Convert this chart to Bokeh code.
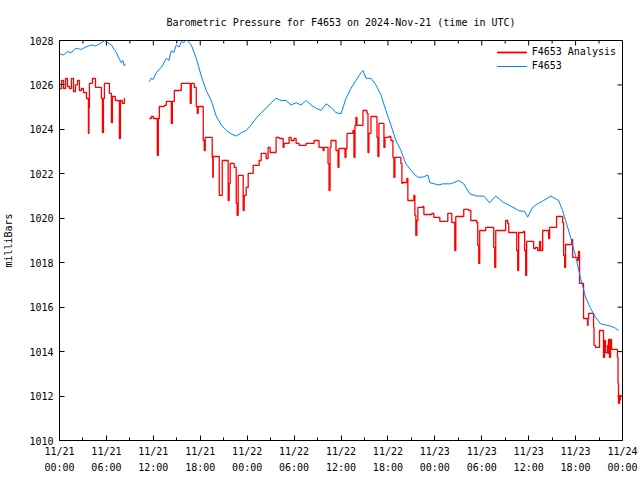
import math
import numpy as np
from bokeh.plotting import figure
from bokeh.models import Range1d, FixedTicker, LinearAxis
from bokeh.embed import file_html
from bokeh.resources import INLINE

FONT = "DejaVu Sans Mono"
title_text = "Barometric Pressure for F4653 on 2024-Nov-21 (time in UTC)"
ylabel = "milliBars"
obs_name = "F4653"
ana_name = "F4653 Analysis"
NaN = float("nan")

# Observed pressure (hours since 2024-11-21 00:00 UTC, mb)
obs_hours = [0.00, 0.5, 1.02, 1.53, 2.04, 2.81, 3.3, 4.09, 4.6, 5.36, 5.75, 6.00, 6.4, 6.64,
             7.0, 7.28, 7.6, 7.91, 8.1, 8.30, 8.4,
             11.49, 11.7, 12.0, 12.38, 13.02, 13.3, 13.66, 14.0, 14.30, 14.6, 14.94, 15.3, 15.57,
             15.9, 16.21, 16.5, 16.85, 17.49,
             18.13, 18.77, 19.40, 20.04, 20.68, 21.32, 21.96, 22.60, 23.23, 23.87,
             24.51, 25.15, 25.79, 26.43, 27.06, 27.70, 28.34, 28.98, 29.62, 30.26,
             30.89, 31.53, 32.17, 32.81, 33.45, 34.09, 34.72, 35.36, 36.00, 36.64,
             37.28, 37.91, 38.55, 38.81, 39.19, 39.83, 40.47, 41.11, 41.74, 42.38,
             43.02, 43.66, 44.30, 45.32, 45.83, 46.47, 47.11, 47.36, 48.51, 49.02,
             50.04, 51.06, 51.70, 52.47, 53.36, 54.25, 55.02, 55.79, 56.81, 57.45,
             58.72, 59.49, 59.87, 60.51, 61.15, 61.91, 62.81, 63.83, 64.34, 64.72,
             65.36, 66.00, 66.64, 67.28, 67.91, 68.55, 69.19, 69.83, 70.47, 71.11,
             71.49, 71.74]
obs_mb = [1027.4, 1027.35, 1027.5, 1027.45, 1027.65, 1027.6, 1027.7, 1027.8, 1027.75, 1027.9,
          1028.0, 1027.95, 1027.85, 1027.8, 1027.6, 1027.45, 1027.2, 1027.0, 1027.1, 1026.85,
          1026.95,
          1026.15, 1026.3, 1026.25, 1026.55, 1026.8, 1026.95, 1027.2, 1027.1, 1027.55, 1027.45,
          1027.8, 1027.7, 1027.95, 1027.9, 1028.05, 1027.95, 1027.8, 1027.2,
          1026.4, 1025.75, 1025.3, 1024.6, 1024.2, 1023.95, 1023.8,
          1023.7, 1023.85, 1023.95, 1024.2, 1024.5, 1024.75, 1024.95, 1025.2, 1025.4,
          1025.3, 1025.3, 1025.1, 1025.2, 1025.1, 1025.3, 1025.1, 1024.95, 1024.85,
          1025.15, 1025.0, 1024.75, 1024.7, 1025.4, 1025.85, 1026.2, 1026.55, 1026.65,
          1026.3, 1026.3, 1026.0, 1025.55, 1024.85, 1024.2, 1023.5, 1023.05, 1022.45,
          1022.0, 1021.85, 1021.85, 1021.95, 1021.6, 1021.5, 1021.55, 1021.55, 1021.7,
          1021.55, 1021.1, 1021.0, 1021.0, 1020.7, 1021.0, 1020.7, 1020.6, 1020.35,
          1020.3, 1020.05, 1020.5, 1020.65, 1020.8, 1021.0, 1020.8, 1020.35, 1019.9,
          1019.15, 1018.3, 1017.3, 1016.45, 1015.95, 1015.55, 1015.25, 1015.2, 1015.15,
          1015.05, 1014.95]
# insert the data gap between the two observed segments
gap_at = obs_hours.index(11.49)
obs_hours = obs_hours[:gap_at] + [NaN] + obs_hours[gap_at:]
obs_mb = obs_mb[:gap_at] + [NaN] + obs_mb[gap_at:]

# Analysis pressure (step values, hours, mb)
ana_hours = [0.00, 0.26, 0.51, 0.77, 1.02, 1.28, 1.53, 1.79, 2.04, 2.30, 2.55, 2.81, 3.06,
             3.45, 3.70, 3.77, 3.83, 4.21, 4.60, 5.36, 5.49, 5.62, 5.74, 6.38, 6.64, 6.77,
             7.15, 7.66, 7.79, 8.04, 8.30, 8.36,
             11.49, 11.74, 12.00, 12.51, 12.64, 12.77, 13.40, 13.66, 14.30, 14.43, 14.68,
             15.57, 16.72, 16.85, 17.23, 17.49, 17.62, 17.74, 18.38, 18.51, 18.64, 19.53,
             19.60, 19.66, 20.43, 20.81, 21.57, 21.70, 21.83, 22.34, 22.60, 22.72, 22.85,
             23.49, 23.62, 23.87, 24.13, 24.77, 25.53, 25.79, 26.43, 26.68, 26.94, 27.70,
             28.09, 28.60, 28.72, 29.36, 29.62, 30.00, 30.26, 30.64, 31.53, 32.55, 33.19,
             33.70, 33.83, 34.34, 34.47, 34.60, 34.72, 35.36, 35.62, 35.74, 36.51, 36.64,
             36.77, 37.53, 37.66, 37.79, 37.91, 38.04, 38.81, 39.32, 39.45, 39.57, 39.83,
             40.60, 40.72, 40.85, 41.49, 41.62, 42.13, 42.38, 42.64, 42.77, 42.89, 43.66,
             43.79, 43.91, 44.43, 44.55, 45.32, 45.45, 45.57, 45.70, 45.83, 46.47, 46.60,
             47.62, 47.87, 48.64, 49.66, 50.17, 50.55, 50.68, 51.70, 52.34, 52.60, 53.36,
             53.49, 53.62, 53.74, 54.51, 55.53, 55.66, 55.79, 57.06, 57.32, 57.45, 58.47,
             58.60, 58.72, 59.36, 59.49, 59.62, 59.74, 60.64, 60.89, 61.15, 61.40, 61.53,
             61.79, 62.55, 62.68, 63.57, 64.34, 64.47, 64.60, 64.72, 65.49, 65.62, 66.26,
             66.38, 66.51, 67.02, 67.53, 67.60, 67.66, 68.30, 68.36, 68.55, 69.06, 69.57,
             69.70, 69.83, 70.08, 70.15, 70.21, 70.34, 70.47, 70.60, 71.36, 71.43, 71.49,
             71.62, 71.74]
ana_mb = [1025.84, 1026.2, 1025.84, 1026.29, 1025.93, 1025.84, 1026.29, 1025.7, 1026.0,
          1026.2, 1025.75, 1025.84, 1025.66, 1025.39, 1023.82, 1024.99, 1026.07, 1026.29,
          1025.89, 1025.39, 1023.86, 1025.39, 1026.07, 1025.62, 1024.31, 1025.48, 1025.3,
          1023.59, 1025.3, 1025.17, 1025.39, 1025.39,
          1024.49, 1024.58, 1024.49, 1022.83, 1024.49, 1025.03, 1025.08, 1025.26, 1024.27,
          1025.26, 1025.75, 1026.07, 1025.17, 1026.07, 1025.89, 1025.03, 1024.72, 1025.03,
          1023.5, 1023.05, 1023.64, 1022.74, 1021.84, 1022.78, 1021.03, 1022.6, 1020.8,
          1021.57, 1022.47, 1022.29, 1020.67, 1020.13, 1021.93, 1020.35, 1021.03, 1021.39,
          1022.02, 1022.38, 1022.6, 1022.92, 1022.69, 1023.19, 1022.96, 1023.64, 1023.59,
          1023.19, 1023.37, 1023.64, 1023.5, 1023.59, 1023.37, 1023.28, 1023.37, 1023.5,
          1023.19, 1023.05, 1023.19, 1022.47, 1021.25, 1023.19, 1023.5, 1023.05, 1022.29,
          1023.14, 1022.74, 1023.14, 1023.82, 1023.95, 1022.74, 1024.18, 1024.54, 1024.18,
          1024.85, 1024.72, 1022.96, 1023.82, 1024.58, 1023.64, 1022.78, 1024.27, 1023.19,
          1023.64, 1023.68, 1023.5, 1022.74, 1021.84, 1022.74, 1022.47, 1021.57, 1021.61,
          1021.79, 1020.8, 1021.03, 1020.13, 1019.23, 1019.9, 1020.49, 1020.53, 1020.17,
          1020.22, 1020.04, 1019.86, 1020.22, 1019.81, 1018.55, 1020.08, 1020.4, 1020.35,
          1019.9, 1019.81, 1018.78, 1017.97, 1019.45, 1019.59, 1018.69, 1017.79, 1019.45,
          1019.9, 1019.77, 1019.36, 1018.55, 1017.65, 1019.36, 1019.41, 1018.55, 1017.43,
          1018.96, 1018.64, 1018.69, 1018.55, 1018.96, 1018.55, 1019.45, 1019.09, 1019.59,
          1020.08, 1019.81, 1018.33, 1017.79, 1018.82, 1019.05, 1018.24, 1018.1, 1018.51,
          1017.07, 1015.49, 1015.18, 1015.49, 1015.72, 1015.09, 1014.28, 1014.19, 1014.95,
          1013.74, 1014.5, 1013.96, 1014.28, 1013.92, 1014.55, 1013.74, 1014.55, 1014.1,
          1013.74, 1012.57, 1011.67, 1012.03, 1011.8]
ana_split = ana_hours.index(11.49)

tick_hours = [0, 6, 12, 18, 24, 30, 36, 42, 48, 54, 60, 66, 72]
tick_labels = ["11/21\n00:00", "11/21\n06:00", "11/21\n12:00", "11/21\n18:00",
               "11/22\n00:00", "11/22\n06:00", "11/22\n12:00", "11/22\n18:00",
               "11/23\n00:00", "11/23\n06:00", "11/23\n12:00", "11/23\n18:00",
               "11/24\n00:00"]
minor_hours = [3, 9, 15, 21, 27, 33, 39, 45, 51, 57, 63, 69]
y_ticks = [1010, 1012, 1014, 1016, 1018, 1020, 1022, 1024, 1026, 1028]

RED = "#ff0000"
BLUE = "#0080ff"
MAJ, MIN = 5, 3

p = figure(width=640, height=480, output_backend="svg", toolbar_location=None,
           x_range=Range1d(tick_hours[0], tick_hours[-1]),
           y_range=Range1d(y_ticks[0], y_ticks[-1]),
           min_border_left=58, min_border_right=18, min_border_top=40, min_border_bottom=40,
           x_axis_type=None, y_axis_type=None)
p.title.text = title_text
p.title.text_font = FONT
p.title.text_font_size = "10px"
p.title.text_font_style = "normal"
p.title.text_color = "black"
p.title.align = "center"
p.title.standoff = 26
p.grid.visible = False
p.outline_line_color = "black"
p.outline_line_width = 1
p.background_fill_color = "white"
p.border_fill_color = "white"

xt = FixedTicker(ticks=tick_hours, minor_ticks=minor_hours)
yt = FixedTicker(ticks=y_ticks, minor_ticks=[])

def style(ax):
    ax.major_tick_in = MAJ
    ax.major_tick_out = 0
    ax.minor_tick_in = MIN
    ax.minor_tick_out = 0
    ax.axis_line_color = "black"
    ax.major_tick_line_color = "black"
    ax.minor_tick_line_color = "black"
    ax.major_label_text_font = FONT
    ax.major_label_text_font_size = "10px"
    ax.major_label_text_color = "black"

xb = LinearAxis(ticker=xt)
style(xb)
xb.major_label_overrides = {h: lab for h, lab in zip(tick_hours, tick_labels)}
xb.major_label_text_line_height = 1.5
xb.major_label_standoff = 5
p.add_layout(xb, "below")

yl = LinearAxis(ticker=yt, axis_label=ylabel)
style(yl)
yl.major_label_standoff = 6
yl.axis_label_text_font = FONT
yl.axis_label_text_font_size = "10px"
yl.axis_label_text_font_style = "normal"
yl.axis_label_text_color = "black"
yl.axis_label_standoff = 12
p.add_layout(yl, "left")

# mirrored tick marks on the top and right borders (gnuplot style)
top_y = y_ticks[-1]
right_x = tick_hours[-1]
p.ray(x=tick_hours, y=[top_y] * len(tick_hours), length=MAJ, length_units="screen",
      angle=-90, angle_units="deg", line_color="black", line_width=1)
p.ray(x=minor_hours, y=[top_y] * len(minor_hours), length=MIN, length_units="screen",
      angle=-90, angle_units="deg", line_color="black", line_width=1)
p.ray(x=[right_x] * len(y_ticks), y=y_ticks, length=MAJ, length_units="screen",
      angle=180, angle_units="deg", line_color="black", line_width=1)

# analysis (red) drawn as steps, two segments around the data gap
p.step(ana_hours[:ana_split], ana_mb[:ana_split], mode="after", line_color=RED,
       line_width=1.3, legend_label=ana_name)
p.step(ana_hours[ana_split:], ana_mb[ana_split:], mode="after", line_color=RED,
       line_width=1.3, legend_label=ana_name)
p.line(obs_hours, obs_mb, line_color=BLUE, line_width=1, legend_label=obs_name)

lg = p.legend[0]
lg.location = "top_right"
lg.border_line_color = None
lg.background_fill_alpha = 0
lg.label_text_font = FONT
lg.label_text_font_size = "10px"
lg.label_text_color = "black"
lg.label_height = 10
lg.glyph_height = 10
lg.glyph_width = 30
lg.spacing = 3
lg.padding = 4
lg.margin = 6

open("out.html", "w").write(file_html(p, INLINE))
